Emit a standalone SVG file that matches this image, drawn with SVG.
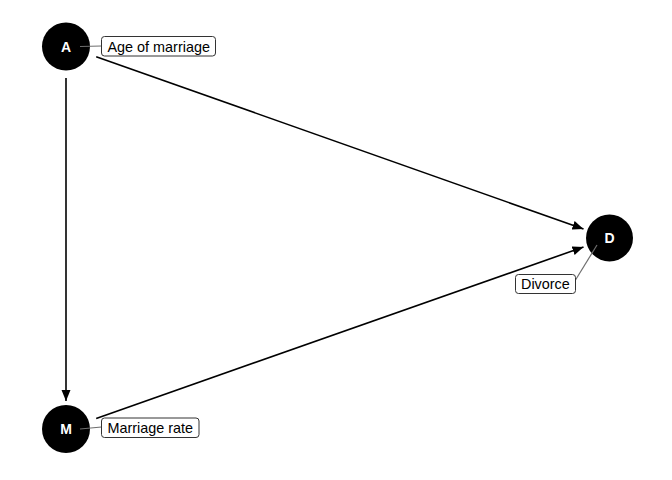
<svg xmlns="http://www.w3.org/2000/svg" width="672" height="480" viewBox="0 0 672 480">
<defs>
<marker id="arr" markerUnits="userSpaceOnUse" markerWidth="12" markerHeight="10" viewBox="0 0 12 10" refX="11" refY="5" orient="auto">
<path d="M0,0.5 L11,5 L0,9.5 Z" fill="#000"/>
</marker>
<style>
.edge{stroke:#000;stroke-width:1.6;fill:none}
.dot{fill:#000}
.nl{fill:#fff;font-family:"Liberation Sans",Arial,sans-serif;font-weight:bold;font-size:14px;text-anchor:middle;dominant-baseline:central}
.lead{stroke:#6e6e6e;stroke-width:1.2}
.lbox{fill:#fff;stroke:#333;stroke-width:1}
.ltext{fill:#000;font-family:"Liberation Sans",Arial,sans-serif;font-size:14.4px}
</style>
</defs>
<rect width="672" height="480" fill="#fff"/>
<g id="connectors">
<line class="edge" x1="96.2" y1="56.7" x2="583.5" y2="229" marker-end="url(#arr)"/>
<line class="edge" x1="66" y1="78" x2="66" y2="401" marker-end="url(#arr)"/>
<line class="edge" x1="96.2" y1="418.4" x2="583.5" y2="247" marker-end="url(#arr)"/>
</g>
<g id="node-A">
<circle class="dot" cx="66" cy="46.5" r="24"/>
<text class="nl" x="66" y="46.5">A</text>
<line class="lead" x1="80" y1="46.5" x2="101.5" y2="46"/>
<rect class="lbox" x="101.5" y="36.5" width="114" height="19.5" rx="3"/>
<text class="ltext" x="107.5" y="51.5">Age of marriage</text>
</g>
<g id="node-M">
<circle class="dot" cx="66" cy="429" r="24"/>
<text class="nl" x="66" y="429">M</text>
<line class="lead" x1="80" y1="429" x2="101.5" y2="427"/>
<rect class="lbox" x="101.5" y="418" width="97.5" height="19.5" rx="3"/>
<text class="ltext" x="107.5" y="433">Marriage rate</text>
</g>
<g id="node-D">
<circle class="dot" cx="609.5" cy="238" r="23.5"/>
<text class="nl" x="609.5" y="238">D</text>
<line class="lead" x1="597" y1="245" x2="575.5" y2="280"/>
<rect class="lbox" x="515.5" y="274.5" width="60" height="19" rx="3"/>
<text class="ltext" x="521" y="289">Divorce</text>
</g>
</svg>
